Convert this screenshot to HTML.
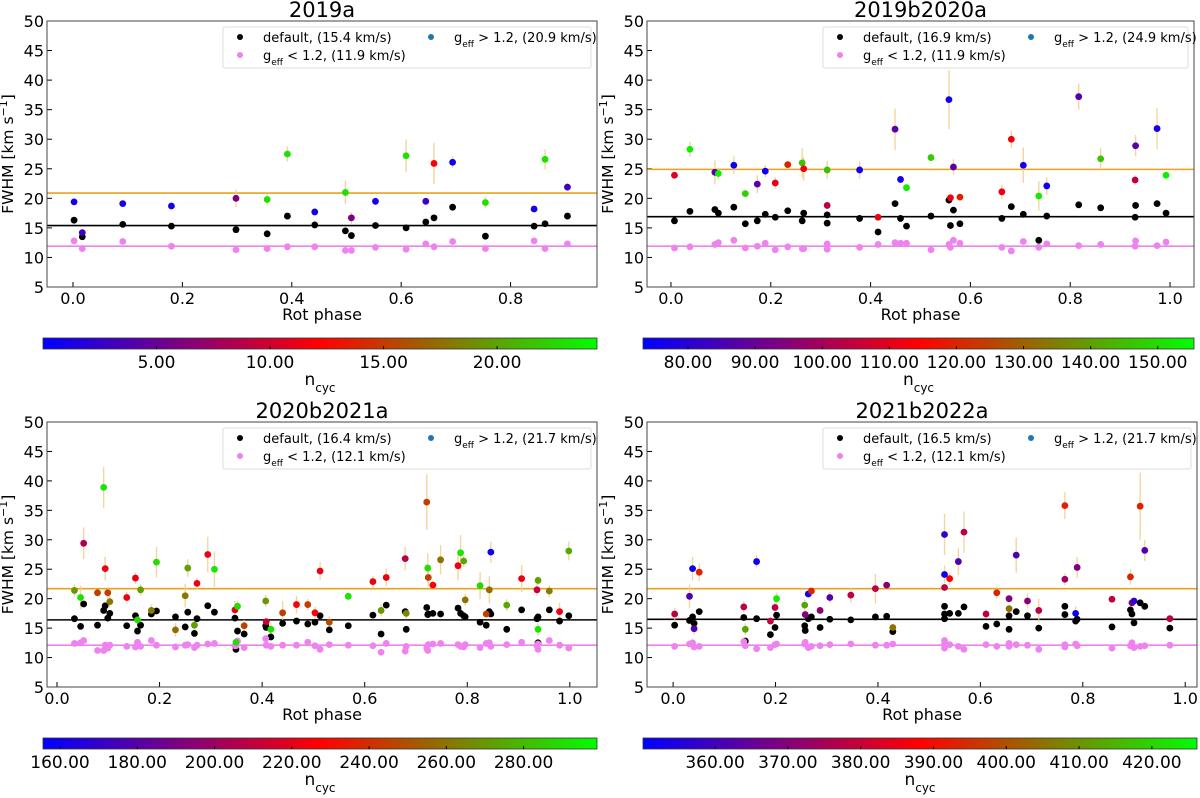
<!DOCTYPE html>
<html><head><meta charset="utf-8">
<style>
html,body{margin:0;padding:0;background:#fff;}
svg{display:block;font-family:"DejaVu Sans","Liberation Sans",sans-serif;}
</style></head>
<body>
<svg id="fig" width="1200" height="798" viewBox="0 0 1200 798" xmlns="http://www.w3.org/2000/svg"></svg>
<script>
// ---------- Panel 1: 2019a ----------
const p1Phase = [0.002,0.017,0.091,0.180,0.298,0.355,0.392,0.442,0.498,0.509,0.553,0.609,0.645,0.660,0.694,0.754,0.843,0.863,0.904];
const p1Default = [16.3,13.5,15.6,15.3,14.7,14.0,17.0,15.5,14.5,13.7,15.4,15.0,16.0,16.7,18.5,13.6,15.3,15.7,17.0];
const p1Low = [12.8,11.5,12.7,11.9,11.3,11.5,11.8,11.8,11.2,11.2,11.7,11.4,12.3,11.8,12.7,11.5,12.8,11.5,12.3];
const p1High = [19.4,14.2,19.1,18.7,20.0,19.8,27.5,17.7,21.0,16.7,19.5,27.2,19.5,25.9,26.1,19.3,18.2,26.6,21.9];
const p1Err = [0.3,0.5,0.3,0.3,1.5,1.0,1.3,0.4,2.0,1.0,0.4,2.8,0.4,3.5,1.0,1.0,0.4,1.7,0.7];
const p1Ncyc = [1,3,1,1,6,23,23,1,23,6,1,23,3,12,1,23,1,23,3];
const p1Means = [20.9,15.4,11.9];

// ---------- Panel 2: 2019b2020a ----------
const p2Phase = [0.007,0.038,0.088,0.095,0.126,0.149,0.173,0.189,0.209,0.234,0.263,0.266,0.313,0.313,0.378,0.415,0.449,0.460,0.472,0.521,0.557,0.560,0.566,0.579,0.663,0.682,0.706,0.737,0.753,0.817,0.861,0.931,0.930,0.974,0.992];
const p2Default = [16.2,17.8,18.1,17.5,18.5,15.7,16.2,17.3,16.8,17.9,16.2,17.5,17.2,15.8,16.6,14.3,19.1,16.6,15.3,17.0,19.7,15.4,18.0,15.7,16.6,18.6,17.3,12.9,17.0,18.9,18.4,18.8,16.8,19.1,17.5];
const p2Low = [11.6,11.8,12.2,12.5,12.9,11.6,11.9,12.4,11.3,11.8,11.5,11.5,12.3,11.4,11.7,12.2,12.5,12.4,12.4,11.3,12.2,11.7,12.9,12.4,11.7,11.1,12.7,11.7,12.3,12.0,12.2,12.8,11.9,12.0,12.6];
const p2High = [23.9,28.3,24.4,24.2,25.6,20.8,22.4,24.6,22.6,25.7,26.0,25.0,24.8,18.8,24.8,16.8,31.7,23.2,21.8,26.9,36.7,20.1,25.3,20.2,21.1,30.0,25.6,20.4,22.1,37.2,26.7,28.9,23.1,31.8,23.9];
const p2Err = [0.5,1.3,2.0,1.0,1.5,0.5,1.5,1.0,1.0,0.5,2.5,2.0,1.5,0.5,1.5,0.5,3.5,0.5,0.5,0.5,5.0,0.5,1.3,0.5,1.2,1.5,3.0,2.5,1.5,2.2,1.8,1.8,0.8,3.5,0.3];
const p2Ncyc = [110,153,88,153,76,148,88,76,110,120,145,112,145,104,76,112,88,77,152,147,76,112,88,120,112,112,76,152,76,86,146,88,104,77,153];
const p2Means = [24.9,16.9,11.9];

// ---------- Panel 3: 2020b2021a ----------
const p3Phase = [0.034,0.046,0.052,0.079,0.091,0.094,0.099,0.103,0.136,0.153,0.157,0.163,0.184,0.194,0.231,0.250,0.255,0.268,0.273,0.294,0.307,0.347,0.352,0.349,0.365,0.407,0.408,0.417,0.440,0.467,0.489,0.503,0.513,0.531,0.568,0.616,0.632,0.642,0.679,0.681,0.721,0.723,0.724,0.733,0.748,0.782,0.787,0.793,0.796,0.825,0.837,0.843,0.846,0.877,0.906,0.936,0.938,0.938,0.960,0.980,0.998];
const p3Default = [16.6,15.3,19.1,15.5,18.0,18.8,16.7,17.5,15.4,17.1,14.5,15.5,17.4,17.9,16.9,15.2,17.7,14.1,16.6,18.8,17.7,16.7,14.5,11.4,14.0,15.4,15.1,13.5,15.8,16.2,15.7,16.0,17.1,14.7,15.4,17.2,14.0,18.9,17.8,14.8,18.5,17.3,17.4,17.5,17.4,18.4,17.5,17.1,16.9,16.0,15.5,17.8,17.4,14.8,18.1,16.6,16.9,12.5,18.1,16.2,17.1];
const p3Low = [12.4,12.5,12.9,11.2,11.2,12.1,11.6,12.1,11.9,11.8,12.6,11.9,12.9,12.1,11.8,12.1,12.2,11.7,12.1,12.3,12.4,12.0,12.8,12.0,11.7,13.2,12.1,11.9,12.1,12.1,12.6,12.0,11.4,12.2,12.1,12.0,10.9,12.4,11.1,11.9,11.6,11.2,12.2,12.3,12.4,12.2,11.9,11.8,12.2,11.7,12.4,12.5,11.9,12.2,12.6,12.0,11.4,12.3,12.9,12.1,11.6];
const p3High = [21.4,20.2,29.4,21.0,38.9,25.1,21.0,19.5,20.2,23.5,16.4,21.5,18.0,26.2,14.7,20.5,25.2,15.5,22.6,27.5,25.0,18.1,18.7,12.6,15.4,19.6,16.1,14.8,17.6,19.0,19.0,17.6,24.7,16.0,20.4,22.9,18.0,23.6,26.8,17.5,36.4,25.2,23.6,22.3,26.6,25.6,27.8,26.4,19.8,22.2,17.4,21.5,27.9,18.9,23.4,21.5,23.1,14.8,21.3,17.8,28.1];
const p3Err = [1,2,2.7,0.5,3.5,2,1,1,1,1,0.8,1,1,2.6,1.2,2,1.5,1.5,1,3,3,1.5,1,0,1,1,0.5,1,2,1.5,1,1,1.5,1,0.5,1,1,1.5,2,1,4.7,2.5,1.5,0.8,2.5,2.5,3,1,1,2.3,0.5,2.3,1.8,1,2.3,1,0.7,1,1,1.5,1.6];
const p3Ncyc = [270,290,205,245,292,222,245,260,222,220,290,272,262,290,258,260,272,272,222,222,292,220,290,290,245,270,212,290,245,225,245,225,222,248,292,222,270,222,208,265,245,290,245,225,258,222,292,275,260,288,245,258,160,275,222,210,272,292,262,222,275];
const p3Means = [21.7,16.4,12.1];

// ---------- Panel 4: 2021b2022a ----------
const p4Phase = [0.003,0.032,0.038,0.041,0.051,0.138,0.141,0.163,0.190,0.199,0.202,0.257,0.258,0.264,0.270,0.287,0.306,0.347,0.395,0.417,0.429,0.530,0.530,0.530,0.540,0.557,0.568,0.611,0.632,0.656,0.656,0.670,0.692,0.714,0.765,0.765,0.786,0.789,0.857,0.893,0.896,0.900,0.912,0.921,0.970];
const p4Default = [15.5,16.3,16.9,15.8,17.8,16.8,12.8,16.6,13.9,15.1,17.2,15.4,14.6,16.6,16.9,15.1,16.5,16.4,16.9,17.0,14.4,18.7,17.4,16.6,17.5,17.5,18.6,15.3,15.7,14.8,17.1,17.8,17.1,15.0,18.7,17.3,16.2,16.5,15.2,18.1,17.4,15.9,19.3,18.7,15.0];
const p4Low = [11.9,12.3,12.5,11.8,11.9,12.7,12.0,11.5,11.7,12.2,12.3,12.3,12.6,11.7,11.9,12.0,12.2,12.3,12.1,12.1,12.3,12.9,11.6,12.3,12.2,11.9,11.4,12.2,11.9,12.4,11.9,12.2,12.1,11.4,12.2,11.8,12.3,12.0,11.6,12.0,12.5,11.7,11.9,12.0,12.1];
const p4High = [17.4,20.4,25.1,14.9,24.5,18.6,14.8,26.3,16.2,18.5,20.0,18.9,17.3,20.8,21.3,18.0,20.2,20.6,21.7,22.3,15.1,30.9,24.1,21.9,23.4,26.3,31.3,17.4,21.0,20.0,18.3,27.4,19.6,18.0,35.8,23.3,17.5,25.3,19.9,23.7,19.3,19.6,35.7,28.2,16.6];
const p4Err = [1,2,2,1,1.5,1,1,1,0.5,1,1,1,0.5,0.5,0.5,0.5,1,1.3,2.5,0.5,0.5,3.5,1.5,0.5,1,2.3,3.5,0.7,1,0.5,0.5,3,1.3,2,2.3,1,1.2,1.8,0.5,1.3,0.5,0.5,5.7,1.8,0.5];
const p4Ncyc = [378,362,352,362,393,378,413,352,378,378,423,413,370,352,393,372,362,378,378,370,405,358,352,378,388,362,378,378,393,370,405,362,370,378,393,374,352,370,378,393,370,356,393,362,378];
const p4Means = [21.7,16.5,12.1];

// Colorbar tick labels
const cb1Ticks = [5,10,15,20];
const cb2Ticks = [80,90,100,110,120,130,140,150];
const cb3Ticks = [160,180,200,220,240,260,280];
const cb4Ticks = [360,370,380,390,400,410,420];
const yTicks = [5,10,15,20,25,30,35,40,45,50];

const NS = "http://www.w3.org/2000/svg";
const svg = document.getElementById("fig");
function el(tag, attrs, parent){
  const e = document.createElementNS(NS, tag);
  for (const k in attrs) e.setAttribute(k, attrs[k]);
  (parent||svg).appendChild(e);
  return e;
}
function brg(t){
  t = Math.max(0, Math.min(1, t));
  let r,g,b;
  if (t < 0.5){ r = 2*t; g = 0; b = 1-2*t; } else { r = 2-2*t; g = 2*t-1; b = 0; }
  return "rgb(" + Math.round(r*255) + "," + Math.round(g*255) + "," + Math.round(b*255) + ")";
}

const panels = [
  {title:"2019a", L:47,R:597,T:21,B:287, xmin:-0.0475,xmax:0.958, xt:[0,0.2,0.4,0.6,0.8],
   cbL:43,cbR:597,cbT:338,cbB:349, vmin:0,vmax:24.4, cbt:cb1Ticks,
   ph:p1Phase, d:p1Default, lo:p1Low, hi:p1High, er:p1Err, nc:p1Ncyc, m:p1Means},
  {title:"2019b2020a", L:647,R:1194,T:21,B:287, xmin:-0.048,xmax:1.048, xt:[0,0.2,0.4,0.6,0.8,1.0],
   cbL:643,cbR:1194,cbT:338,cbB:349, vmin:73.3,vmax:155.4, cbt:cb2Ticks,
   ph:p2Phase, d:p2Default, lo:p2Low, hi:p2High, er:p2Err, nc:p2Ncyc, m:p2Means},
  {title:"2020b2021a", L:47,R:597,T:422,B:687, xmin:-0.0195,xmax:1.053, xt:[0,0.2,0.4,0.6,0.8,1.0],
   cbL:43,cbR:597,cbT:738,cbB:749, vmin:155.6,vmax:299, cbt:cb3Ticks,
   ph:p3Phase, d:p3Default, lo:p3Low, hi:p3High, er:p3Err, nc:p3Ncyc, m:p3Means},
  {title:"2021b2022a", L:647,R:1197,T:422,B:687, xmin:-0.051,xmax:1.023, xt:[0,0.2,0.4,0.6,0.8,1.0],
   cbL:643,cbR:1197,cbT:738,cbB:749, vmin:350.1,vmax:426.2, cbt:cb4Ticks,
   ph:p4Phase, d:p4Default, lo:p4Low, hi:p4High, er:p4Err, nc:p4Ncyc, m:p4Means}
];

panels.forEach((p, pi) => {
  const g = el("g", {});
  
  
  const X = v => p.L + (v - p.xmin) / (p.xmax - p.xmin) * (p.R - p.L);
  const Y = v => p.B - (v - 5) / 45 * (p.B - p.T);
  const cx = (p.L + p.R) / 2;

  const title = el("text", {x:cx, y:p.T-4, "text-anchor":"middle", "font-size":"21"}, g);
  title.textContent = p.title;
  
  

  yTicks.forEach(v => {
    const tk = el("line", {x1:p.L, x2:p.L+5, y1:Y(v), y2:Y(v), stroke:"#000", "stroke-width":1}, g);
    
    
    const tl = el("text", {x:p.L-3, y:Y(v)+6, "text-anchor":"end", "font-size":"16"}, g);
    tl.textContent = v;
    
    
  });
  p.xt.forEach(v => {
    const tk = el("line", {x1:X(v), x2:X(v), y1:p.B, y2:p.B-5, stroke:"#000", "stroke-width":1}, g);
    
    
    const tl = el("text", {x:X(v), y:p.B+17, "text-anchor":"middle", "font-size":"16"}, g);
    tl.textContent = v.toFixed(1);
    
    
  });
  const xl = el("text", {x:cx, y:p.B+33, "text-anchor":"middle", "font-size":"16"}, g);
  xl.textContent = "Rot phase";
  
  
  const yl = el("text", {transform:"translate(" + (p.L-34) + "," + ((p.T+p.B)/2) + ") rotate(-90)", "text-anchor":"middle", "font-size":"15.5"}, g);
  yl.innerHTML = 'FWHM [km s<tspan baseline-shift="super" font-size="11">−1</tspan>]';
  
  

  const mcol = ["#e8a31a", "#000", "#ee82ee"];
  const mname = ["mean-line-high", "mean-line-default", "mean-line-low"];
  p.m.forEach((v, i) => {
    const ln = el("line", {x1:p.L, x2:p.R, y1:Y(v), y2:Y(v), stroke:mcol[i], "stroke-width":1.6}, g);
    
    
  });
  p.ph.forEach((x, i) => {
    if (p.er[i] <= 0) return;
    const eb = el("line", {x1:X(x), x2:X(x), y1:Y(p.hi[i]-p.er[i]), y2:Y(p.hi[i]+p.er[i]), stroke:"#f1cf8f", "stroke-width":1.4, opacity:0.85}, g);
    
    
  });
  p.ph.forEach((x, i) => {
    const c = el("circle", {cx:X(x), cy:Y(p.d[i]), r:3.4, fill:"#000"}, g);
    
    
  });
  p.ph.forEach((x, i) => {
    const c = el("circle", {cx:X(x), cy:Y(p.lo[i]), r:3.4, fill:"#ee82ee"}, g);
    
    
  });
  p.ph.forEach((x, i) => {
    const c = el("circle", {cx:X(x), cy:Y(p.hi[i]), r:3.4, fill:brg((p.nc[i]-p.vmin)/(p.vmax-p.vmin))}, g);
    
    
  });

  const fr = el("rect", {x:p.L, y:p.T, width:p.R-p.L, height:p.B-p.T, fill:"none", stroke:"#444", "stroke-width":1}, g);
  
  

  const lg = el("g", {}, g);
  
  
  const lx = p.L + 176, ly = p.T + 6;
  el("rect", {x:lx, y:ly, width:p.R-lx-6, height:41, rx:2, fill:"#fff", stroke:"#ddd", "stroke-width":1}, lg);
  const e1 = el("circle", {cx:lx+17, cy:ly+10, r:3, fill:"#000"}, lg);
  
  
  const t1 = el("text", {x:lx+40, y:ly+15, "font-size":"13"}, lg);
  t1.textContent = "default, (" + p.m[1].toFixed(1) + " km/s)";
  
  
  const e2 = el("circle", {cx:lx+17, cy:ly+28, r:3, fill:"#ee82ee"}, lg);
  
  
  const t2 = el("text", {x:lx+40, y:ly+33, "font-size":"13"}, lg);
  t2.innerHTML = 'g<tspan baseline-shift="sub" font-size="9">eff</tspan> &lt; 1.2, (' + p.m[2].toFixed(1) + ' km/s)';
  
  
  const e3 = el("circle", {cx:lx+208, cy:ly+10, r:3, fill:"#1f77b4"}, lg);
  
  
  const t3 = el("text", {x:lx+231, y:ly+15, "font-size":"13"}, lg);
  t3.innerHTML = 'g<tspan baseline-shift="sub" font-size="9">eff</tspan> &gt; 1.2, (' + p.m[0].toFixed(1) + ' km/s)';
  
  

  const cb = el("g", {}, g);
  
  
  const gid = "grad" + pi;
  const defs = el("defs", {}, cb);
  const lgd = el("linearGradient", {id:gid, x1:"0", x2:"1", y1:"0", y2:"0"}, defs);
  for (let k = 0; k <= 10; k++) el("stop", {offset:(k/10), "stop-color":brg(k/10)}, lgd);
  el("rect", {x:p.cbL, y:p.cbT, width:p.cbR-p.cbL, height:p.cbB-p.cbT, fill:"url(#"+gid+")", stroke:"#333", "stroke-width":0.8}, cb);
  const CX = v => p.cbL + (v - p.vmin) / (p.vmax - p.vmin) * (p.cbR - p.cbL);
  p.cbt.forEach(v => {
    const tk = el("line", {x1:CX(v), x2:CX(v), y1:p.cbB, y2:p.cbB-3, stroke:"#000", "stroke-width":1}, cb);
    
    
    const tl = el("text", {x:CX(v), y:p.cbB+19, "text-anchor":"middle", "font-size":"17"}, cb);
    tl.textContent = v.toFixed(2);
    
    
  });
  const nl = el("text", {x:(p.cbL+p.cbR)/2, y:p.cbB+36, "text-anchor":"middle", "font-size":"17"}, cb);
  nl.innerHTML = 'n<tspan baseline-shift="sub" font-size="12">cyc</tspan>';
  
  
});
</script>
</body></html>
